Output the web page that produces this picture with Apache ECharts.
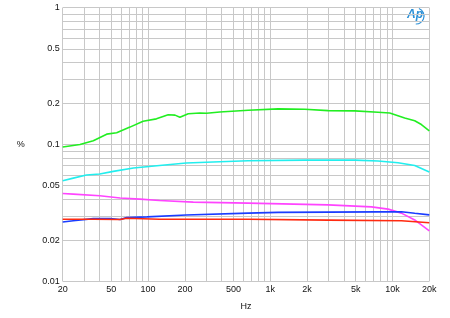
<!DOCTYPE html>
<html><head><meta charset="utf-8">
<script src="https://cdn.jsdelivr.net/npm/echarts@6/dist/echarts.min.js"></script>
<style>html,body{margin:0;padding:0;background:#fff}#c{width:450px;height:318px}</style>
</head><body><div id="c"></div>
<script>
const xGrid = [20,30,40,50,60,70,80,90,100,200,300,400,500,600,700,800,900,1000,2000,3000,4000,5000,6000,7000,8000,9000,10000,20000];
const yGrid = [0.01,0.02,0.03,0.04,0.05,0.06,0.07,0.08,0.09,0.1,0.2,0.3,0.4,0.5,0.6,0.7,0.8,0.9,1];
const xLabels = [20,50,100,200,500,1000,2000,5000,10000,20000];
const yLabels = [0.01,0.02,0.05,0.1,0.2,0.5,1];

const greenHz = [20,27.7,35.6,45.8,55.3,71,91,117,146,166,182,213,265,301,386,659,1159,1915,2970,4910,7610,9490,12580,15200,17230,20000];
const greenPct = [0.096,0.1,0.1066,0.119,0.122,0.134,0.148,0.154,0.165,0.164,0.158,0.168,0.170,0.169,0.173,0.178,0.182,0.181,0.177,0.176,0.172,0.170,0.156,0.149,0.140,0.126];
const cyanHz = [20,24.4,31.3,40.2,51.9,75.9,124,205,386,659,1915,4910,7610,11100,15200,20000];
const cyanPct = [0.0543,0.0568,0.0598,0.0608,0.0636,0.0673,0.0703,0.0732,0.0748,0.076,0.0769,0.0769,0.0757,0.0736,0.0703,0.0629];
const magentaHz = [20,24.4,40.2,59,85.8,124,234,659,2970,6720,9200,11830,15200,20000];
const magentaPct = [0.0438,0.0434,0.0422,0.0406,0.0399,0.039,0.0379,0.0373,0.0362,0.035,0.0337,0.0315,0.0281,0.0234];
const blueHz = [20,24.4,35.6,48.9,59,66.6,97.9,205,659,1159,7610,11830,15200,20000];
const bluePct = [0.0271,0.0277,0.0287,0.0288,0.0283,0.0292,0.0296,0.0305,0.0315,0.0319,0.0322,0.0322,0.0314,0.0306];
const redHz = [20,35.6,59,66.6,124,659,2970,11830,20000];
const redPct = [0.0284,0.0284,0.0283,0.0289,0.0284,0.0284,0.028,0.0277,0.0268];

function pairs(xs, ys){ return xs.map((x,i)=>[x, ys[i]]); }
function line(name, xs, ys, color){
  return {name, type:'line', data:pairs(xs,ys), showSymbol:false, smooth:false,
    lineStyle:{color, width:1.6}, itemStyle:{color}, z:3, silent:true};
}
const font = 'Liberation Sans, Arial, sans-serif';
const chart = echarts.init(document.getElementById('c'), null, {renderer:'canvas'});
chart.setOption({
  animation:false,
  backgroundColor:'#fff',
  grid:{left:62.7, right:20.7, top:7.7, bottom:36.7},
  xAxis:{type:'log', logBase:10, min:20, max:20000,
    name:'Hz', nameLocation:'middle', nameGap:21,
    nameTextStyle:{fontFamily:font, fontSize:9, color:'#111'},
    axisLine:{show:false},
    axisTick:{show:false, customValues:xGrid},
    splitLine:{show:true, lineStyle:{color:'#c8c8c8', width:1}},
    axisLabel:{customValues:xLabels, margin:4, fontFamily:font, fontSize:9, color:'#111',
      formatter:v=> v>=1000 ? (v/1000)+'k' : String(v)}
  },
  yAxis:{type:'log', logBase:10, min:0.01, max:1,
    name:'%', nameLocation:'middle', nameGap:38, nameRotate:0,
    nameTextStyle:{fontFamily:font, fontSize:9, color:'#111'},
    axisLine:{show:false},
    axisTick:{show:false, customValues:yGrid},
    splitLine:{show:true, lineStyle:{color:'#c8c8c8', width:1}},
    axisLabel:{customValues:yLabels, margin:3, fontFamily:font, fontSize:9, color:'#111',
      formatter:v=>String(v)}
  },
  graphic:[
    {type:'text', left:407, top:9, style:{text:'Ap', fontFamily:font, fontSize:12, fontStyle:'italic', fontWeight:'bold', fill:'#2a8fd6'}},
    {type:'arc', shape:{cx:416, cy:16, r:8, startAngle:-1.2, endAngle:1.6}, style:{stroke:'#2a8fd6', lineWidth:1.2, fill:null}}
  ],
  series:[
    line('green', greenHz, greenPct, '#22ee22'),
    line('cyan', cyanHz, cyanPct, '#22eeee'),
    line('magenta', magentaHz, magentaPct, '#ff44ff'),
    line('blue', blueHz, bluePct, '#1a3cff'),
    line('red', redHz, redPct, '#ff2a10')
  ]
});
</script></body></html>
